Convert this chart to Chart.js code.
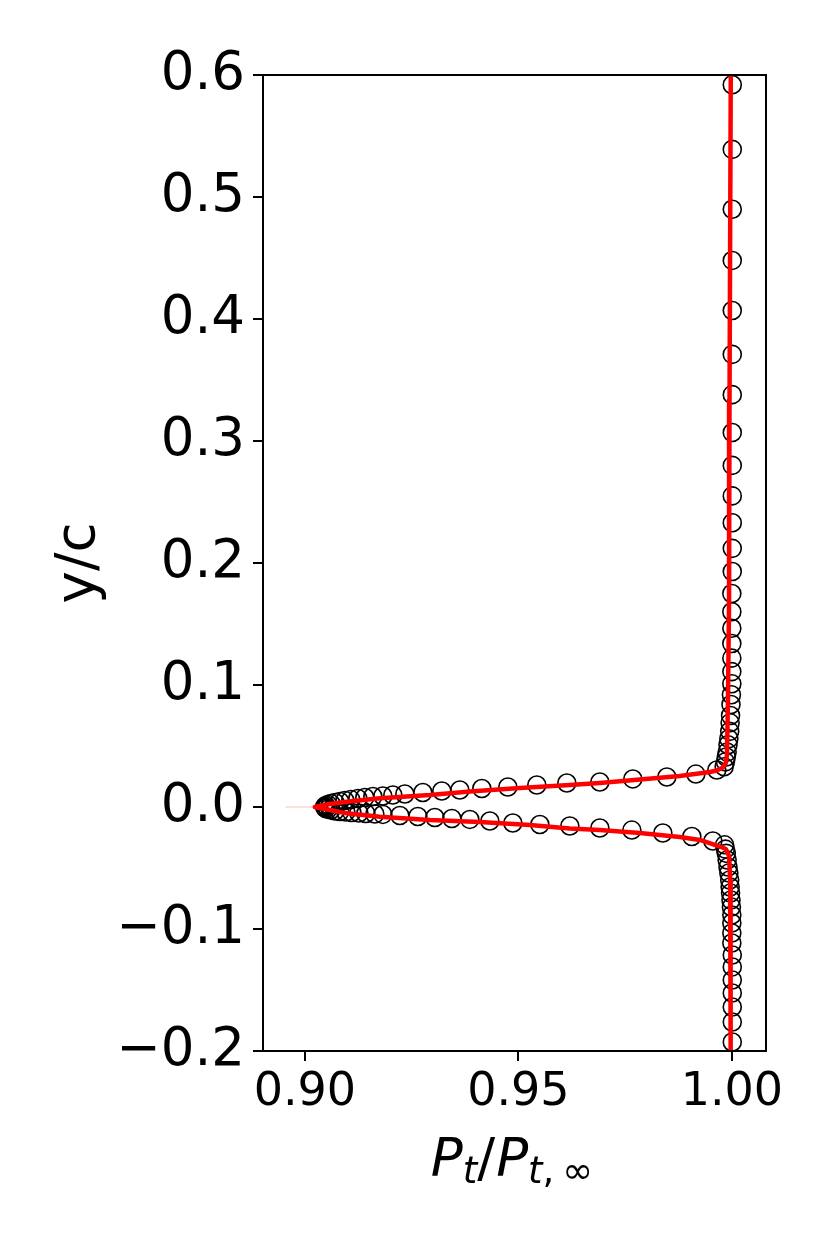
<!DOCTYPE html>
<html><head><meta charset="utf-8">
<script src="https://cdn.jsdelivr.net/npm/chart.js@4.4.0/dist/chart.umd.min.js"></script>
<style>html,body{margin:0;padding:0;background:#fff;} #wrap{width:830px;height:1246px;}</style>
</head><body><div id="wrap"><canvas id="c" width="830" height="1246"></canvas></div>
<script>
// ---- experimental data (open circles) ----
const expX = [
  1.0001,1.0001,1.0001,1.0001,1.0001,1.0001,1.0001,1.0001,1.0001,1.0001,1.0001,1.0001,1.0001,
  1.0000,1.0000,1.0000,1.0000,1.0000,1.0000,1.0000,
  0.9999,0.9998,0.9997,0.9996,0.9995,0.9993,0.9991,0.9989,0.9987,0.9985,0.9982,
  0.99649,0.99157,0.98478,0.97681,0.96909,0.96136,0.95433,0.94754,0.94145,0.93630,0.93208,0.92763,0.92342,0.92061,0.91827,0.91593,
  0.91405,0.91241,0.91077,0.90937,0.90820,0.90703,0.90609,0.90539,0.90492,
  0.90468,0.90468,
  0.90492,0.90539,0.90609,0.90703,0.90820,0.90960,0.91101,0.91265,0.91429,
  0.91639,0.91827,0.92225,0.92646,0.93044,0.93443,0.93864,0.94333,0.94871,0.95504,0.96206,0.96909,0.97658,0.98384,0.99063,0.99555,
  0.9983,0.9985,0.9987,0.9989,0.9991,0.9993,0.9995,0.9996,0.9997,0.9998,0.9999,
  1.0000,1.0000,1.0000,1.0000,1.0001,1.0001,1.0001,1.0001,1.0001,1.0001,1.0001
];
const expY = [
  0.592,0.539,0.490,0.448,0.407,0.371,0.338,0.307,0.280,0.255,0.233,0.212,0.193,
  0.175,0.160,0.1465,0.134,0.122,0.111,0.101,
  0.092,0.084,0.075,0.069,0.062,0.056,0.051,0.045,0.041,0.037,0.033,
  0.0303,0.0270,0.0246,0.0230,0.0205,0.0197,0.0180,0.0164,0.0152,0.0139,0.0131,0.0119,0.0107,0.0098,0.0090,0.0086,
  0.0078,0.0070,0.0061,0.0053,0.0045,0.0037,0.0029,0.0020,0.0012,
  0.0004,-0.0004,
  -0.0012,-0.0019,-0.0025,-0.0033,-0.0037,-0.0041,-0.0045,-0.0049,-0.0053,
  -0.0057,-0.0061,-0.0070,-0.0078,-0.0086,-0.0094,-0.0102,-0.0115,-0.0131,-0.0143,-0.0156,-0.0172,-0.0189,-0.0213,-0.0242,-0.0279,
  -0.0310,-0.0345,-0.0380,-0.0434,-0.0492,-0.0541,-0.0598,-0.0656,-0.0705,-0.0762,-0.0820,
  -0.0885,-0.0951,-0.1033,-0.1115,-0.1213,-0.1311,-0.1418,-0.1525,-0.1639,-0.1762,-0.1926
];
// ---- computed profile (red line) ----
const cfdX = [0.99975,0.99946,0.99935,0.99910,0.99885,0.99859,0.99789,0.99649,0.99485,0.98782,
  0.97845,0.96909,0.96206,0.95035,0.93864,0.92927,0.91756,0.90984,0.90585,0.90351,0.90234,
  0.90351,0.90585,0.90984,0.91756,0.92927,0.94098,0.95269,0.96206,0.96909,0.97845,0.98782,
  0.99251,0.99532,0.99719,0.99859,0.99935,0.99960,0.99972];
const cfdY = [0.6,0.3336,0.1697,0.0877,0.0426,0.0361,0.0324,0.0299,0.0287,0.0254,
  0.0225,0.0197,0.0180,0.0156,0.0127,0.0098,0.0071,0.0043,0.0025,0.0008,0.0,
  -0.0008,-0.0025,-0.0052,-0.0080,-0.0107,-0.0123,-0.0148,-0.0176,-0.0189,-0.0213,-0.0246,
  -0.0270,-0.0303,-0.0324,-0.0344,-0.0402,-0.0598,-0.2];
// faint tip of the computed profile
const tailX = [0.8955, 0.9023];
const tailY = [0.0, 0.0];

const xTicks = [0.90, 0.95, 1.00];
const xTickLabels = ['0.90', '0.95', '1.00'];
const yTicks = [-0.2, -0.1, 0.0, 0.1, 0.2, 0.3, 0.4, 0.5, 0.6];
const yTickLabels = ['\u22120.2', '\u22120.1', '0.0', '0.1', '0.2', '0.3', '0.4', '0.5', '0.6'];
const xRange = [0.8902, 1.0080];
const yRange = [-0.2, 0.6];

function pts(xs, ys) {
  const n = Math.min(xs.length, ys.length);
  const out = [];
  for (let i = 0; i < n; i++) out.push({x: xs[i], y: ys[i]});
  return out;
}

const FONT = '"DejaVu Sans", "Liberation Sans", sans-serif';

const framePlugin = {
  id: 'frame',
  afterDraw(chart) {
    const {ctx, chartArea: a} = chart;
    ctx.save();
    ctx.strokeStyle = '#000';
    ctx.lineWidth = 2;
    ctx.strokeRect(a.left, a.top, a.right - a.left, a.bottom - a.top);
    ctx.restore();
  }
};

const titlePlugin = {
  id: 'titles',
  afterDraw(chart) {
    const {ctx, chartArea: a} = chart;
    ctx.save();
    ctx.fillStyle = '#000';
    // y title
    ctx.translate(80, (a.top + a.bottom) / 2);
    ctx.rotate(-Math.PI / 2);
    ctx.font = '55px ' + FONT;
    ctx.textAlign = 'center';
    ctx.textBaseline = 'middle';
    ctx.fillText('y/c', 0, 0);
    ctx.restore();

    // x title: P_t / P_{t,∞}
    ctx.save();
    ctx.fillStyle = '#000';
    ctx.textBaseline = 'alphabetic';
    ctx.textAlign = 'left';
    const bigI = 'italic 53px ' + FONT, big = '53px ' + FONT;
    const subI = 'italic 37px ' + FONT, sub = '37px ' + FONT;
    const base = 1176, subBase = 1183;
    const parts = [
      ['P', bigI, base, 0], ['t', subI, subBase, 0], ['/', big, base, 1],
      ['P', bigI, base, 0], ['t', subI, subBase, 0], [',', sub, subBase, 1], ['\u221E', sub, subBase, 7]
    ];
    let total = 0;
    const widths = parts.map(p => { ctx.font = p[1]; return ctx.measureText(p[0]).width; });
    parts.forEach((p, i) => { total += widths[i] + p[3]; });
    let x = 512 - total / 2;
    parts.forEach((p, i) => {
      ctx.font = p[1];
      if (p[3] && p[0] === '\u221E') x += p[3];
      ctx.fillText(p[0], x, p[2]);
      x += widths[i];
      if (p[3] && p[0] !== '\u221E') x += p[3];
    });
    ctx.restore();
  }
};

new Chart(document.getElementById('c'), {
  type: 'scatter',
  data: {
    datasets: [
      {
        label: 'CFD', data: pts(cfdX, cfdY), showLine: true, order: 0,
        borderColor: '#ff0000', borderWidth: 4.5, pointRadius: 0, pointHoverRadius: 0,
        tension: 0, fill: false, borderJoinStyle: 'round', borderCapStyle: 'round', clip: 0
      },
      {
        label: 'tail', data: pts(tailX, tailY), showLine: true, order: 1,
        borderColor: 'rgba(255,0,0,0.13)', borderWidth: 2, pointRadius: 0, pointHoverRadius: 0, clip: 0
      },
      {
        label: 'Exp', data: pts(expX, expY), showLine: false, order: 2,
        pointStyle: 'circle', pointRadius: 9, pointHoverRadius: 9,
        borderColor: '#000', borderWidth: 1.6, backgroundColor: 'rgba(0,0,0,0)', clip: 0
      }
    ]
  },
  options: {
    responsive: false, animation: false, devicePixelRatio: 1,
    layout: {padding: {top: 75, right: 64, bottom: 0, left: 0}},
    plugins: {legend: {display: false}, tooltip: {enabled: false}},
    events: [],
    scales: {
      x: {
        type: 'linear', min: xRange[0], max: xRange[1],
        afterBuildTicks: (axis) => { axis.ticks = xTicks.map(v => ({value: v})); },
        afterFit: (s) => { s.height = 195; },
        ticks: {
          callback: (v, i) => xTickLabels[i], color: '#000', padding: 4,
          font: {family: FONT, size: 46}, maxRotation: 0, minRotation: 0, autoSkip: false
        },
        grid: {drawOnChartArea: false, drawTicks: true, tickLength: 10, tickWidth: 2, tickColor: '#000', lineWidth: 2, color: '#000'},
        border: {display: true, color: '#000', width: 2}
      },
      y: {
        type: 'linear', min: yRange[0], max: yRange[1],
        afterBuildTicks: (axis) => { axis.ticks = yTicks.map(v => ({value: v})); },
        afterFit: (s) => { s.width = 263; },
        ticks: {
          callback: (v, i) => yTickLabels[i], color: '#000', padding: 8,
          font: {family: FONT, size: 53}, autoSkip: false
        },
        grid: {drawOnChartArea: false, drawTicks: true, tickLength: 10, tickWidth: 2, tickColor: '#000', lineWidth: 2, color: '#000'},
        border: {display: true, color: '#000', width: 2}
      }
    }
  },
  plugins: [framePlugin, titlePlugin]
});
</script>
</body></html>
